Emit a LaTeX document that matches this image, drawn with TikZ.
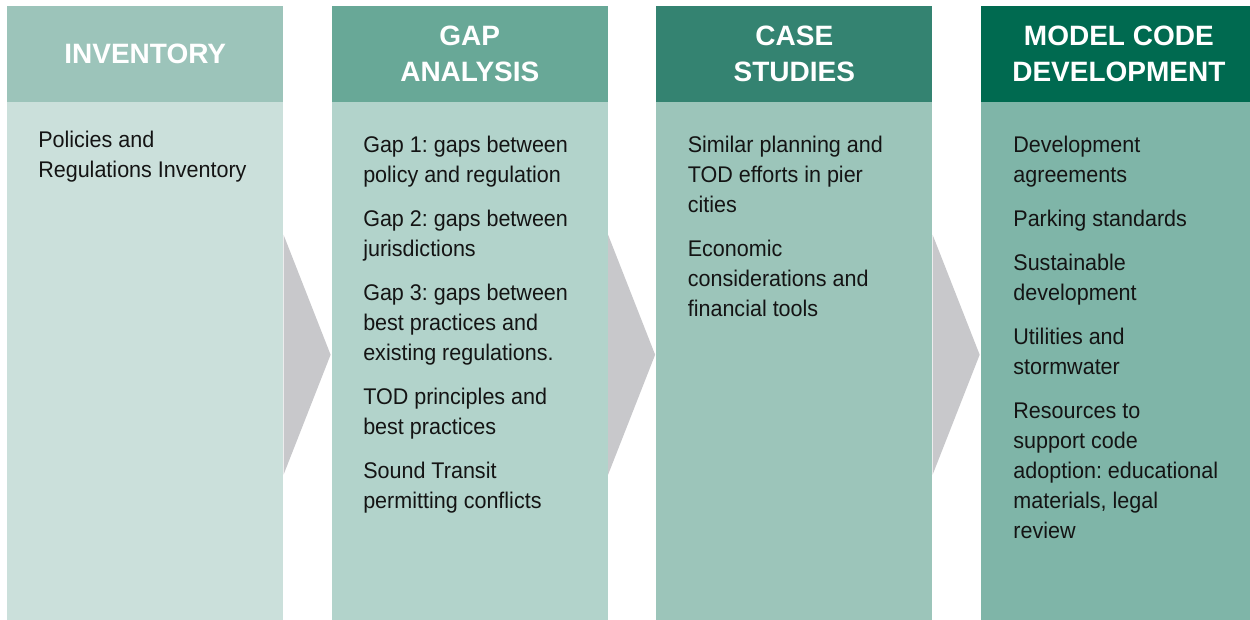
\documentclass[tikz,border=0pt]{standalone}
\usepackage{fontspec}
\setmainfont{Liberation Sans}
\newfontfamily\bodyfont[FakeStretch=0.95]{Liberation Sans}
\usetikzlibrary{positioning}
\definecolor{ink}{HTML}{141414}
\definecolor{chevgray}{HTML}{C8C8CB}
\definecolor{invhead}{HTML}{9CC4BA}
\definecolor{invbody}{HTML}{CBE0DB}
\definecolor{gaphead}{HTML}{68A897}
\definecolor{gapbody}{HTML}{B2D3CB}
\definecolor{casehead}{HTML}{348371}
\definecolor{casebody}{HTML}{9CC5BA}
\definecolor{codehead}{HTML}{006A50}
\definecolor{codebody}{HTML}{7FB5A8}

\begin{document}
\begin{tikzpicture}[
    head/.style={minimum width=207pt, minimum height=71.6pt, inner sep=0pt, align=center, text=white, font=\fontsize{21}{27}\selectfont\bfseries},
    panel/.style={minimum width=207pt, minimum height=388.5pt, inner sep=0pt, below=0pt of #1},
    items/.style={anchor=north west, inner sep=0pt, align=left, text=ink, font=\bodyfont\fontsize{17}{22.5}\selectfont\frenchspacing},
    chevron/.style={fill=chevgray}
  ]
  \useasboundingbox (0,0) rectangle (937.5pt,-464.25pt);

  % column headers
  \node[head, fill=invhead, anchor=north west] (invHead) at (5.25pt,-4.5pt) {INVENTORY};
  \node[head, fill=gaphead, right=36pt of invHead] (gapHead) {GAP\\ANALYSIS};
  \node[head, fill=casehead, right=36pt of gapHead] (caseHead) {CASE\\STUDIES};
  \node[head, fill=codehead, right=36pt of caseHead] (codeHead) {MODEL CODE\\DEVELOPMENT};

  % column bodies
  \node[panel=invHead, fill=invbody] (invBody) {};
  \node[panel=gapHead, fill=gapbody] (gapBody) {};
  \node[panel=caseHead, fill=casebody] (caseBody) {};
  \node[panel=codeHead, fill=codebody] (codeBody) {};

  % arrows between the columns
  \foreach \b in {invBody, gapBody, caseBody}
    \fill[chevron] ([yshift=94.9pt]\b.east) -- ([xshift=35.3pt, yshift=4.9pt]\b.east) -- ([yshift=-85.1pt]\b.east) -- cycle;

  % column contents (a strut on the first line keeps the tops aligned)
  \node[items] (invText) at ([xshift=23.25pt, yshift=-18pt]invBody.north west)
    {\strut Policies and\\Regulations Inventory};
  \node[items] (gapText) at ([xshift=23.6pt, yshift=-21.75pt]gapBody.north west)
    {\strut Gap 1: gaps between\\policy and regulation\\[10.5pt]
     Gap 2: gaps between\\jurisdictions\\[10.5pt]
     Gap 3: gaps between\\best practices and\\existing regulations.\\[10.5pt]
     TOD principles and\\best practices\\[10.5pt]
     Sound Transit\\permitting conflicts};
  \node[items] (caseText) at ([xshift=23.6pt, yshift=-21.75pt]caseBody.north west)
    {\strut Similar planning and\\TOD efforts in pier\\cities\\[10.5pt]
     Economic\\considerations and\\financial tools};
  \node[items] (codeText) at ([xshift=24.4pt, yshift=-21.75pt]codeBody.north west)
    {\strut Development\\agreements\\[10.5pt]
     Parking standards\\[10.5pt]
     Sustainable\\development\\[10.5pt]
     Utilities and\\stormwater\\[10.5pt]
     Resources to\\support code\\adoption: educational\\materials, legal\\review};
\end{tikzpicture}
\end{document}
